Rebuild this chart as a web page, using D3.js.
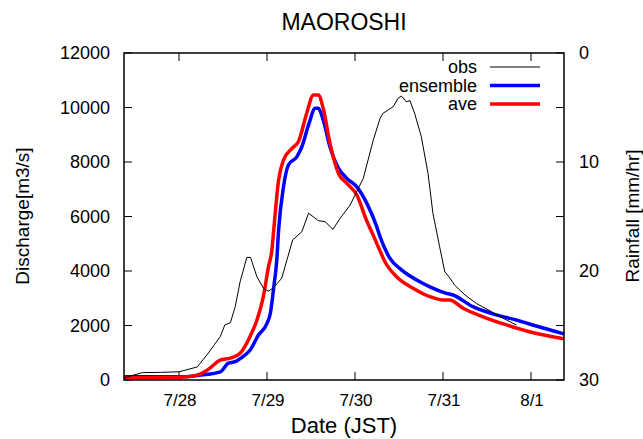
<!DOCTYPE html>
<html>
<head>
<meta charset="utf-8">
<script src="https://cdn.jsdelivr.net/npm/d3@7"></script>
<style>
  body { margin: 0; background: #fff; }
  text { font-family: "Liberation Sans", Arial, sans-serif; fill: #000; }
</style>
</head>
<body>
<div id="chart"></div>
<script>
const title = "MAOROSHI";
const timeRange = ["07/27 09:00", "08/01 09:00"];
const dateTicks = ["07/28 00:00", "07/29 00:00", "07/30 00:00", "07/31 00:00", "08/01 00:00"];
const dateTickLabels = ["7/28", "7/29", "7/30", "7/31", "8/1"];
const dischargeTicks = [0, 2000, 4000, 6000, 8000, 10000, 12000];
const rainTicks = [0, 10, 20, 30];
const rainMinorTicks = [5, 15, 25];

// observed discharge
const obs = [
    ["07/27 09:00", 80], ["07/27 14:00", 270], ["07/27 19:00", 280], ["07/28 00:00", 300],
    ["07/28 05:00", 480], ["07/28 08:00", 990], ["07/28 09:40", 1300], ["07/28 11:15", 1590],
    ["07/28 12:30", 2020], ["07/28 14:00", 2100], ["07/28 15:20", 2690], ["07/28 16:40", 3610],
    ["07/28 18:30", 4500], ["07/28 19:30", 4500], ["07/28 21:15", 3790], ["07/28 23:00", 3370],
    ["07/29 00:20", 3260], ["07/29 01:40", 3370], ["07/29 04:00", 3730], ["07/29 07:00", 5140],
    ["07/29 09:30", 5440], ["07/29 11:20", 6120], ["07/29 14:00", 5850], ["07/29 15:50", 5810],
    ["07/29 18:00", 5530], ["07/29 19:55", 5930], ["07/29 22:40", 6420], ["07/30 02:15", 7400],
    ["07/30 05:00", 8810], ["07/30 06:50", 9600], ["07/30 07:40", 9790], ["07/30 10:25", 10030],
    ["07/30 11:45", 10340], ["07/30 12:40", 10420], ["07/30 14:00", 10210], ["07/30 15:00", 10250],
    ["07/30 16:15", 9790], ["07/30 18:05", 8930], ["07/30 19:55", 7580], ["07/30 21:15", 6120],
    ["07/30 23:05", 4890], ["07/31 00:30", 3970], ["07/31 01:50", 3750], ["07/31 03:10", 3480],
    ["07/31 06:00", 3120], ["07/31 09:05", 2810], ["07/31 13:10", 2510], ["07/31 17:20", 2200],
    ["07/31 20:00", 2020]
];

// ensemble forecast
const ensemble = [
    ["07/27 09:00", 120], ["07/28 02:00", 120], ["07/28 06:00", 180], ["07/28 11:15", 300],
    ["07/28 13:30", 620], ["07/28 15:20", 670], ["07/28 17:10", 830], ["07/28 19:25", 1100],
    ["07/28 21:40", 1650], ["07/29 00:00", 2080], ["07/29 00:55", 2450], ["07/29 01:50", 3400],
    ["07/29 02:40", 4400], ["07/29 03:10", 5500], ["07/29 04:30", 7090], ["07/29 05:50", 7890],
    ["07/29 08:10", 8200], ["07/29 09:30", 8560], ["07/29 11:20", 9360], ["07/29 13:10", 9970],
    ["07/29 14:00", 9970], ["07/29 15:20", 9540], ["07/29 17:10", 8560], ["07/29 19:30", 7770],
    ["07/29 21:45", 7400], ["07/30 00:30", 7090], ["07/30 03:10", 6500], ["07/30 05:55", 5630],
    ["07/30 06:50", 5260], ["07/30 09:30", 4470], ["07/30 12:40", 4040], ["07/30 16:50", 3670],
    ["07/30 20:25", 3420], ["07/31 00:30", 3200], ["07/31 02:45", 3120], ["07/31 08:10", 2690],
    ["07/31 14:30", 2390], ["07/31 20:00", 2200], ["08/01 01:25", 1980], ["08/01 09:00", 1690]
];

// ensemble average
const ave = [
    ["07/27 09:00", 80], ["07/28 00:20", 100], ["07/28 05:00", 180], ["07/28 08:00", 390],
    ["07/28 11:15", 730], ["07/28 14:00", 800], ["07/28 16:40", 980], ["07/28 18:55", 1470],
    ["07/28 21:15", 2200], ["07/28 23:00", 3060], ["07/29 00:25", 4160], ["07/29 01:20", 4770],
    ["07/29 01:50", 5500], ["07/29 03:10", 7340], ["07/29 04:30", 8070], ["07/29 06:50", 8500],
    ["07/29 08:35", 8750], ["07/29 10:50", 9790], ["07/29 12:40", 10460], ["07/29 14:00", 10460],
    ["07/29 15:20", 9970], ["07/29 17:10", 8690], ["07/29 19:30", 7580], ["07/29 21:45", 7220],
    ["07/30 00:30", 6790], ["07/30 03:10", 5850], ["07/30 05:00", 5300], ["07/30 06:20", 4890],
    ["07/30 08:10", 4340], ["07/30 11:20", 3790], ["07/30 15:50", 3370], ["07/30 20:25", 3060],
    ["07/31 00:00", 2940], ["07/31 01:50", 2940], ["07/31 05:30", 2630], ["07/31 10:55", 2320],
    ["07/31 17:20", 2020], ["07/31 23:35", 1770], ["08/01 08:10", 1530], ["08/01 09:00", 1510]
];

const series = [
    { name: "obs", data: obs, color: "#000", width: 1, curve: d3.curveLinear },
    { name: "ensemble", data: ensemble, color: "#0000ff", width: 3.5, curve: d3.curveMonotoneX },
    { name: "ave", data: ave, color: "#ff0000", width: 3.5, curve: d3.curveMonotoneX },
];

const width = 643, height = 439;
const margin = { top: 53, right: 79, bottom: 59, left: 124 };
const parse = d3.utcParse("%m/%d %H:%M");

const svg = d3.select("#chart").append("svg").attr("width", width).attr("height", height);

const x = d3.scaleUtc()
    .domain(timeRange.map(parse))
    .range([margin.left, width - margin.right]);
const y = d3.scaleLinear()
    .domain([0, 12000])
    .range([height - margin.bottom, margin.top]);
const yRain = d3.scaleLinear()
    .domain([0, 30])
    .range([margin.top, height - margin.bottom]);

const tickLen = 8;
const axes = svg.append("g").attr("stroke", "#000").attr("stroke-width", 1);

// ticks (gnuplot style, pointing inward, mirrored on top)
dateTicks.forEach(t => {
    const px = x(parse(t));
    axes.append("line").attr("x1", px).attr("x2", px)
        .attr("y1", y(0)).attr("y2", y(0) - tickLen);
    axes.append("line").attr("x1", px).attr("x2", px)
        .attr("y1", y(12000)).attr("y2", y(12000) + tickLen);
});
dischargeTicks.forEach(v => {
    axes.append("line").attr("x1", x.range()[0]).attr("x2", x.range()[0] + tickLen)
        .attr("y1", y(v)).attr("y2", y(v));
});
rainTicks.concat(rainMinorTicks).forEach(v => {
    axes.append("line").attr("x1", x.range()[1]).attr("x2", x.range()[1] - tickLen)
        .attr("y1", yRain(v)).attr("y2", yRain(v));
});

// curves
const line = d3.line().x(d => x(parse(d[0]))).y(d => y(d[1]));
[series[1], series[2], series[0]].forEach(s => {
    svg.append("path")
        .attr("d", line.curve(s.curve)(s.data))
        .attr("fill", "none")
        .attr("stroke", s.color)
        .attr("stroke-width", s.width)
        .attr("stroke-linejoin", "round");
});

// frame
svg.append("rect")
    .attr("x", x.range()[0]).attr("y", y(12000))
    .attr("width", x.range()[1] - x.range()[0])
    .attr("height", y(0) - y(12000))
    .attr("fill", "none").attr("stroke", "#000").attr("stroke-width", 1.5);

// tick labels
svg.append("g").selectAll("text").data(dischargeTicks).join("text")
    .attr("x", x.range()[0] - 14).attr("y", d => y(d)).attr("dy", "0.35em")
    .attr("text-anchor", "end").attr("font-size", 18).text(d => d);
svg.append("g").selectAll("text").data(rainTicks).join("text")
    .attr("x", x.range()[1] + 15).attr("y", d => yRain(d)).attr("dy", "0.35em")
    .attr("text-anchor", "start").attr("font-size", 18).text(d => d);
svg.append("g").selectAll("text").data(dateTicks).join("text")
    .attr("x", d => x(parse(d)) + 1).attr("y", y(0) + 26)
    .attr("text-anchor", "middle").attr("font-size", 17)
    .text((d, i) => dateTickLabels[i]);

// titles
svg.append("text").attr("x", 344).attr("y", 30).attr("text-anchor", "middle")
    .attr("font-size", 23).text(title);
svg.append("text").attr("x", 344).attr("y", 433).attr("text-anchor", "middle")
    .attr("font-size", 22).text("Date (JST)");
svg.append("text").attr("transform", "translate(29,216) rotate(-90)")
    .attr("text-anchor", "middle").attr("font-size", 19).text("Discharge[m3/s]");
svg.append("text").attr("transform", "translate(639,216) rotate(-90)")
    .attr("text-anchor", "middle").attr("font-size", 19).text("Rainfall [mm/hr]");

// legend
const legend = svg.append("g");
series.forEach((s, i) => {
    const ly = 67 + i * 18.5;
    legend.append("text").attr("x", 477).attr("y", ly).attr("dy", "0.35em")
        .attr("text-anchor", "end").attr("font-size", 18).text(s.name);
    legend.append("line").attr("x1", 490).attr("x2", 540).attr("y1", ly).attr("y2", ly)
        .attr("stroke", s.color).attr("stroke-width", s.width);
});
</script>
</body>
</html>
